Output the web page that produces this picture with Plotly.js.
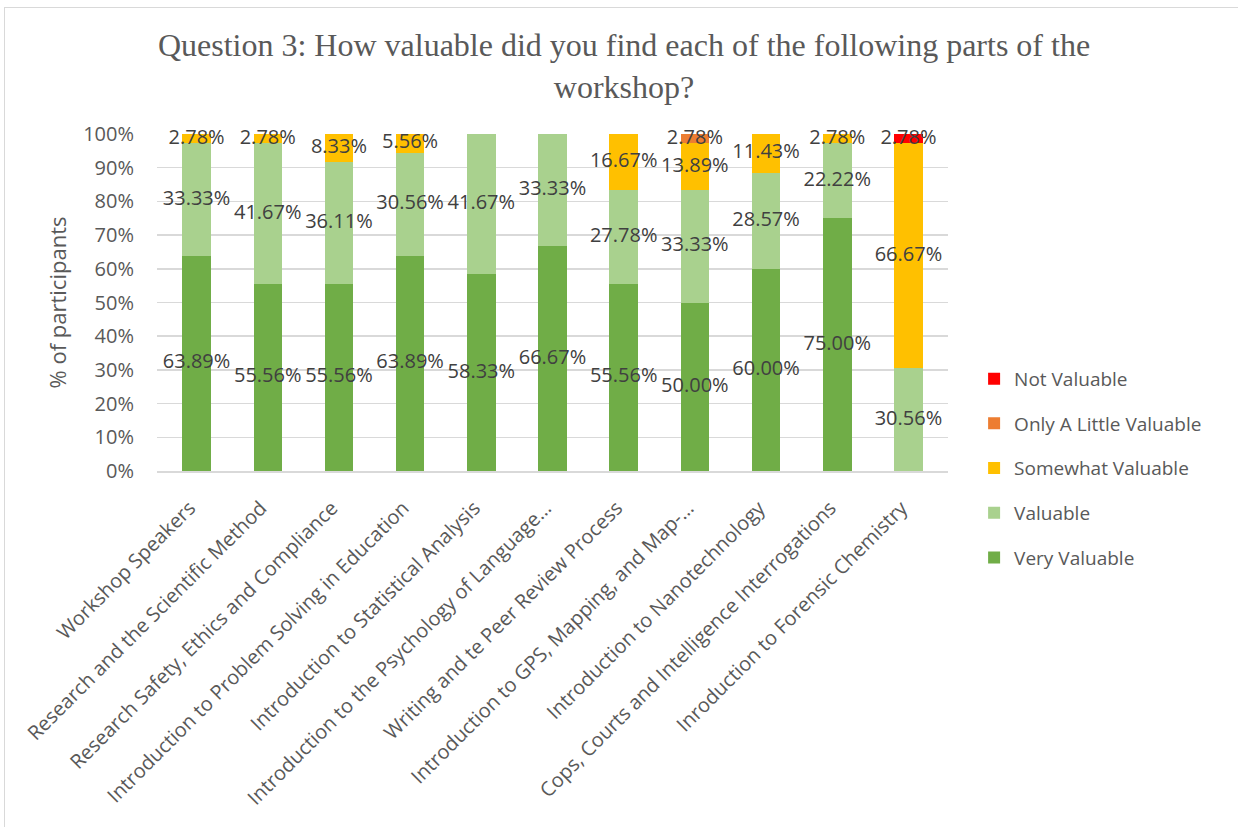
<!DOCTYPE html>
<html>
<head>
<meta charset="utf-8">
<script src="https://cdn.plot.ly/plotly-3.0.1.min.js"></script>
<style>
  html, body { margin: 0; padding: 0; background: #ffffff; }
  #wrap { position: relative; width: 1238px; height: 827px; overflow: hidden; }
  #chart { width: 1238px; height: 827px; }
  #frame { position: absolute; left: 4px; top: 7px; width: 1300px; height: 900px;
           border-left: 1px solid #D9D9D9; border-top: 1px solid #D9D9D9; pointer-events: none; }
</style>
</head>
<body>
<div id="wrap">
  <div id="chart"></div>
  <div id="frame"></div>
</div>
<script>
const categories = [
  "Workshop Speakers",
  "Research and the Scientific Method",
  "Research Safety, Ethics and Compliance",
  "Introduction to Problem Solving in Education",
  "Introduction to Statistical Analysis",
  "Introduction to the Psychology of Language…",
  "Writing and te Peer Review Process",
  "Introduction to GPS, Mapping, and Map-…",
  "Introduction to Nanotechnology",
  "Cops, Courts and Intelligence Interrogations",
  "Inroduction to Forensic Chemistry"
];
const veryValuable       = [63.89, 55.56, 55.56, 63.89, 58.33, 66.67, 55.56, 50.00, 60.00, 75.00, 0];
const valuable           = [33.33, 41.67, 36.11, 30.56, 41.67, 33.33, 27.78, 33.33, 28.57, 22.22, 30.56];
const somewhatValuable   = [2.78, 2.78, 8.33, 5.56, 0, 0, 16.67, 13.89, 11.43, 2.78, 66.67];
const onlyALittle        = [0, 0, 0, 0, 0, 0, 0, 2.78, 0, 0, 0];
const notValuable        = [0, 0, 0, 0, 0, 0, 0, 0, 0, 0, 2.78];
const seriesNames = ["Very Valuable", "Valuable", "Somewhat Valuable", "Only A Little Valuable", "Not Valuable"];
const seriesColors = ["#70AD47", "#A9D18E", "#FFC000", "#ED7D31", "#FF0000"];
const yTickVals = [0, 10, 20, 30, 40, 50, 60, 70, 80, 90, 100];
const yTickLabels = ["0%", "10%", "20%", "30%", "40%", "50%", "60%", "70%", "80%", "90%", "100%"];

const allSeries = [veryValuable, valuable, somewhatValuable, onlyALittle, notValuable];
const labelFont = { family: "Open Sans, sans-serif", size: 20, color: "#404040" };

const barTraces = allSeries.map((vals, i) => ({
  type: "bar",
  name: seriesNames[i],
  x: categories,
  y: vals,
  marker: { color: seriesColors[i], line: { width: 0 } },
  legendgroup: "g" + i,
  legendrank: 10 - i,
  hoverinfo: "none"
}));

// data labels at the middle of each stacked segment (computed from the data)
const base = categories.map(() => 0);
const labelTraces = allSeries.map((vals, i) => {
  const mids = vals.map((v, k) => base[k] + v / 2);
  vals.forEach((v, k) => { base[k] += v; });
  return {
    type: "scatter",
    mode: "text",
    x: categories,
    y: mids,
    text: vals.map(v => v ? v.toFixed(2) + "%" : ""),
    textposition: "middle center",
    textfont: labelFont,
    cliponaxis: false,
    showlegend: false,
    hoverinfo: "none"
  };
});

const layout = {
  width: 1238,
  height: 827,
  margin: { l: 157, r: 290, t: 134, b: 356 },
  paper_bgcolor: "#ffffff",
  plot_bgcolor: "#ffffff",
  barmode: "stack",
  bargap: 0.6,
  showlegend: true,
  title: {
    text: "Question 3: How valuable did you find each of the following parts of the<br>workshop?",
    font: { family: "Liberation Serif, Times New Roman, serif", size: 32, color: "#595959" },
    x: 0.5 + 5 / 1238, xanchor: "center", xref: "container",
    y: 1 - 56 / 827, yanchor: "middle", yref: "container"
  },
  xaxis: {
    type: "category",
    tickangle: -45,
    tickfont: { family: "Open Sans, sans-serif", size: 20, color: "#595959" },
    showgrid: false,
    showline: true,
    linecolor: "#D9D9D9",
    linewidth: 1.5,
    ticks: "",
    ticklabelstandoff: 16,
    ticklabelshift: -7,
    automargin: false
  },
  yaxis: {
    range: [0, 100],
    tickvals: yTickVals,
    ticktext: yTickLabels,
    tickfont: { family: "Open Sans, sans-serif", size: 20, color: "#595959" },
    showgrid: true,
    gridcolor: "#D9D9D9",
    gridwidth: 1.5,
    zeroline: false,
    showline: false,
    ticks: "",
    ticklabelstandoff: 22,
    automargin: false,
    title: {
      text: "% of participants",
      font: { family: "Open Sans, sans-serif", size: 22, color: "#595959" },
      standoff: 10
    }
  },
  legend: {
    traceorder: "grouped",
    tracegroupgap: 17,
    x: 1.033, xanchor: "left",
    y: 0.33, yanchor: "top",
    font: { family: "Open Sans, sans-serif", size: 19, color: "#595959" },
    bgcolor: "rgba(0,0,0,0)",
    itemwidth: 30
  }
};

Plotly.newPlot("chart", barTraces.concat(labelTraces), layout, { staticPlot: true, displayModeBar: false });
</script>
</body>
</html>
